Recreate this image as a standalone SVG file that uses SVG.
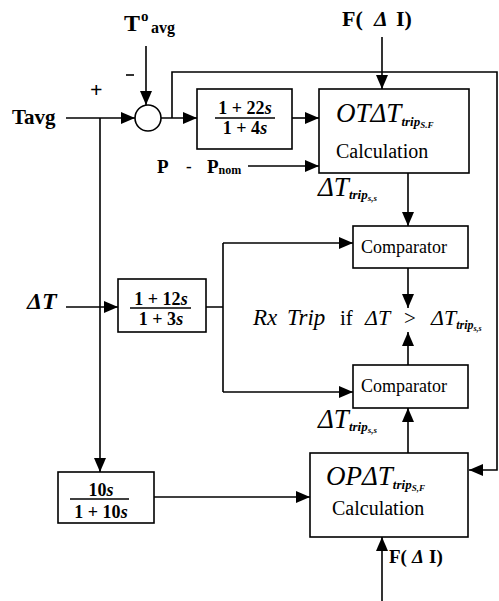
<svg xmlns="http://www.w3.org/2000/svg" width="499" height="601" viewBox="0 0 499 601">
<style>
.ln{fill:none;stroke:#000;stroke-width:1.6}
.bx{fill:#fff;stroke:#000;stroke-width:1.6}
.t{font-family:"Liberation Serif",serif;fill:#000}
.b{font-weight:bold}
.i{font-style:italic}
</style>
<defs>
<marker id="ah" markerUnits="userSpaceOnUse" markerWidth="15" markerHeight="12" refX="14" refY="6" orient="auto">
<path d="M0,0 L14,6 L0,12 z" fill="#000"/>
</marker>
</defs>
<rect width="499" height="601" fill="#fff"/>
<g id="connectors">
<path class="ln" d="M66,118 H135" marker-end="url(#ah)"/>
<path class="ln" d="M146,46 V105" marker-end="url(#ah)"/>
<path class="ln" d="M161,118 H197" marker-end="url(#ah)"/>
<path class="ln" d="M172,118 V72 H497 V470 H469" marker-end="url(#ah)"/>
<path class="ln" d="M292,118 H319" marker-end="url(#ah)"/>
<path class="ln" d="M248,166 H319" marker-end="url(#ah)"/>
<path class="ln" d="M382,37 V89" marker-end="url(#ah)"/>
<path class="ln" d="M408,173 V226" marker-end="url(#ah)"/>
<path class="ln" d="M408,268 V308" marker-end="url(#ah)"/>
<path class="ln" d="M408,365 V332" marker-end="url(#ah)"/>
<path class="ln" d="M408,453 V408" marker-end="url(#ah)"/>
<path class="ln" d="M382,601 V537" marker-end="url(#ah)"/>
<path class="ln" d="M100,118 V472" marker-end="url(#ah)"/>
<path class="ln" d="M66,307 H118" marker-end="url(#ah)"/>
<path class="ln" d="M206,307 H223 M223,243 V392"/>
<path class="ln" d="M223,243 H353" marker-end="url(#ah)"/>
<path class="ln" d="M223,392 H353" marker-end="url(#ah)"/>
<path class="ln" d="M154,497 H310" marker-end="url(#ah)"/>
</g>
<g id="labels">
<text class="t b" x="12" y="124" font-size="21">Tavg</text>
<text class="t b" x="124" y="31" font-size="24">T</text>
<text class="t b" x="141" y="21" font-size="15">o</text>
<text class="t b" x="151" y="33" font-size="16">avg</text>
<text class="t b" x="90" y="97" font-size="22">+</text>
<path class="ln" d="M126,75 H134" stroke-width="2"/>
<text class="t b" x="342" y="26" font-size="22">F(</text>
<text class="t b i" x="374" y="26" font-size="22">Δ</text>
<text class="t b" x="396" y="26" font-size="22">I)</text>
<text class="t b" x="157" y="173" font-size="19">P</text>
<text class="t b" x="186" y="172" font-size="17">-</text>
<text class="t b" x="207" y="173" font-size="19">P<tspan font-size="12" dy="1">nom</tspan></text>
<text class="t b i" x="27" y="309" font-size="24">ΔT</text>
<text class="t b" x="389" y="563" font-size="19">F(</text>
<text class="t b i" x="412" y="563" font-size="19">Δ</text>
<text class="t b" x="429" y="563" font-size="19">I)</text>
<text class="t i" x="318" y="196" font-size="27">ΔT<tspan class="b" font-size="13" dy="3">trip</tspan><tspan class="b" font-size="9" dy="2">s,s</tspan></text>
<text class="t i" x="318" y="428" font-size="27">ΔT<tspan class="b" font-size="13" dy="3">trip</tspan><tspan class="b" font-size="9" dy="2">s,s</tspan></text>
<text class="t i" x="253" y="325" font-size="23">Rx</text>
<text class="t i" x="287" y="325" font-size="23">Trip</text>
<text class="t" x="340" y="325" font-size="21">if</text>
<text class="t i" x="365" y="325" font-size="22">ΔT</text>
<text class="t" x="404" y="325" font-size="21">&gt;</text>
<text class="t i" x="431" y="325" font-size="22">ΔT<tspan class="b" font-size="12" dy="4">trip</tspan><tspan class="b" font-size="8" dy="2">s,s</tspan></text>
</g>
<g id="sum">
<circle class="bx" cx="148" cy="118" r="13"/>
</g>
<g id="lead1">
<rect class="bx" x="197" y="89" width="95" height="60"/>
<text class="t b" x="245" y="114" font-size="18" text-anchor="middle">1 + 22<tspan class="i">s</tspan></text>
<path class="ln" d="M215,118 H275"/>
<text class="t b" x="245" y="134" font-size="18" text-anchor="middle">1 + 4<tspan class="i">s</tspan></text>
</g>
<g id="otdt">
<rect class="bx" x="319" y="89" width="150" height="84"/>
<text class="t i" x="336" y="122" font-size="27">OTΔT<tspan class="b" font-size="13" dy="4">trip</tspan><tspan class="b" font-size="9" dy="2">S.F</tspan></text>
<text class="t" x="336" y="158" font-size="20">Calculation</text>
</g>
<g id="comp1">
<rect class="bx" x="353" y="226" width="115" height="42"/>
<text class="t" x="361" y="253" font-size="18">Comparator</text>
</g>
<g id="comp2">
<rect class="bx" x="353" y="365" width="115" height="43"/>
<text class="t" x="361" y="392" font-size="18">Comparator</text>
</g>
<g id="lead2">
<rect class="bx" x="118" y="279" width="88" height="53"/>
<text class="t b" x="161" y="305" font-size="18" text-anchor="middle">1 + 12<tspan class="i">s</tspan></text>
<path class="ln" d="M130,308 H191"/>
<text class="t b" x="161" y="325" font-size="18" text-anchor="middle">1 + 3<tspan class="i">s</tspan></text>
</g>
<g id="lag">
<rect class="bx" x="58" y="472" width="96" height="51"/>
<text class="t b" x="101" y="496" font-size="18" text-anchor="middle">10<tspan class="i">s</tspan></text>
<path class="ln" d="M70,499 H129"/>
<text class="t b" x="101" y="518" font-size="18" text-anchor="middle">1 + 10<tspan class="i">s</tspan></text>
</g>
<g id="opdt">
<rect class="bx" x="310" y="453" width="158" height="84"/>
<text class="t i" x="326" y="485" font-size="27">OPΔT<tspan class="b" font-size="13" dy="4">trip</tspan><tspan class="b" font-size="9" dy="2">S,F</tspan></text>
<text class="t" x="332" y="515" font-size="20">Calculation</text>
</g>
</svg>
